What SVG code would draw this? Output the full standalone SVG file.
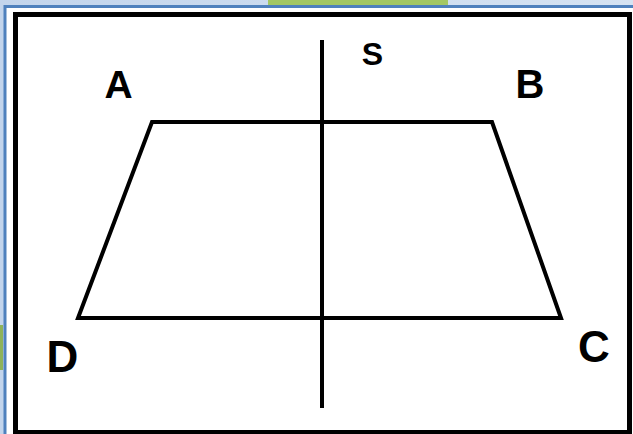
<svg xmlns="http://www.w3.org/2000/svg" width="633" height="434" viewBox="0 0 633 434">
  <style>
    .lbl { font-family: "Liberation Sans", Arial, sans-serif; font-weight: bold; fill: #000; text-anchor: middle; }
    .ln { stroke: #000; stroke-width: 4; fill: none; stroke-linejoin: miter; }
  </style>
  <defs>
    <linearGradient id="bg" x1="0" y1="0" x2="1" y2="0">
      <stop offset="0" stop-color="#c3d5ec"/>
      <stop offset="1" stop-color="#d6e3f2"/>
    </linearGradient>
  </defs>
  <g id="background">
    <rect x="0" y="0" width="633" height="434" fill="url(#bg)"/>
    <rect x="268" y="0" width="180" height="6" fill="#a3c764"/>
    <rect x="0" y="325" width="3" height="45" fill="#8fb35a"/>
    <rect x="5" y="6.5" width="640" height="440" fill="#fff" stroke="#4f81bd" stroke-width="3"/>
    <rect x="15.5" y="14.5" width="614" height="418" fill="#fff" stroke="#000" stroke-width="5"/>
  </g>
  <g id="connectors">
    <polygon id="trapezoid" class="ln" points="152,122 492,122 561,318 78,318"/>
    <line id="axis-s" class="ln" x1="322" y1="40" x2="322" y2="408"/>
  </g>
  <g id="node-A"><text class="lbl" x="118.5" y="98" font-size="39">A</text></g>
  <g id="node-B"><text class="lbl" x="530" y="98" font-size="40">B</text></g>
  <g id="node-S"><text class="lbl" x="372.5" y="65" font-size="32">S</text></g>
  <g id="node-D"><text class="lbl" x="62.5" y="372" font-size="44">D</text></g>
  <g id="node-C"><text class="lbl" x="594" y="362" font-size="44">C</text></g>
</svg>
